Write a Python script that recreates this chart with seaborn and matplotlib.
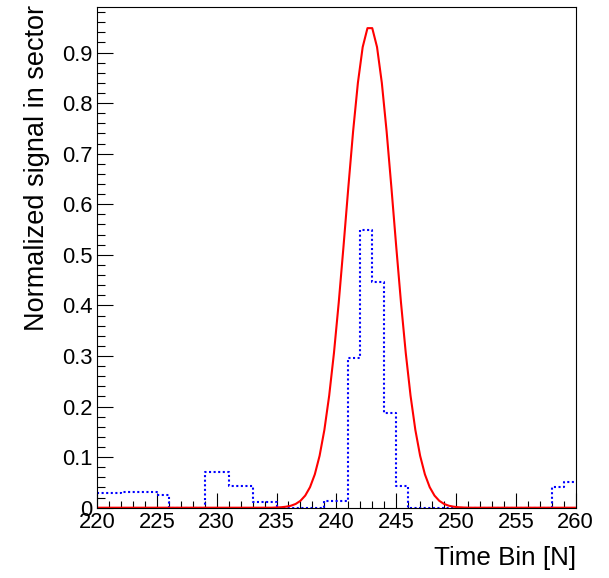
import numpy as np
import pandas as pd
import matplotlib
matplotlib.use("Agg")
import matplotlib.pyplot as plt
import seaborn as sns
from matplotlib.ticker import MultipleLocator

# ---- data ----
bin_edges = list(range(220, 261))
hist_values = [0.030, 0.030, 0.032, 0.032, 0.032, 0.025, 0.0, 0.0, 0.0, 0.070,
               0.070, 0.043, 0.043, 0.012, 0.012, 0.0, 0.0, 0.0, 0.0, 0.014,
               0.014, 0.296, 0.550, 0.447, 0.188, 0.042, 0.0, 0.0, 0.0, 0.0,
               0.0, 0.0, 0.0, 0.0, 0.0, 0.0, 0.0, 0.0, 0.040, 0.051]

fit_x = [220.0, 234.6, 235.0, 235.4, 235.8, 236.2, 236.6, 237.0, 237.4, 237.8,
         238.2, 238.6, 239.0, 239.4, 239.8, 240.2, 240.6, 241.0, 241.4, 241.8,
         242.2, 242.6, 243.0, 243.4, 243.8, 244.2, 244.6, 245.0, 245.4, 245.8,
         246.2, 246.6, 247.0, 247.4, 247.8, 248.2, 248.6, 249.0, 249.4, 249.8,
         250.2, 250.6, 251.0, 260.0]
fit_y = [0.0, 0.0, 0.0004, 0.0009, 0.0020, 0.0039, 0.0074, 0.0136, 0.0240, 0.0406,
         0.0659, 0.1027, 0.1539, 0.2214, 0.3059, 0.4059, 0.5172, 0.6331, 0.7441, 0.8400,
         0.9107, 0.9482, 0.9482, 0.9107, 0.8400, 0.7441, 0.6331, 0.5172, 0.4059, 0.3059,
         0.2214, 0.1539, 0.1027, 0.0659, 0.0406, 0.0240, 0.0136, 0.0074, 0.0039, 0.0020,
         0.0009, 0.0004, 0.0, 0.0]

x_label = "Time Bin [N]"
y_label = "Normalized signal in sector"

# ---- figure ----
sns.set_theme(style="white")
plt.rcParams["font.family"] = ["Liberation Sans", "DejaVu Sans"]
plt.rcParams["text.color"] = "black"
plt.rcParams["axes.labelcolor"] = "black"
plt.rcParams["xtick.color"] = "black"
plt.rcParams["ytick.color"] = "black"

fig = plt.figure(figsize=(6.09, 5.78), dpi=100)
ax = fig.add_axes([97 / 609, 1 - 507.7 / 578, 478.7 / 609, 500.7 / 578])

hist_df = pd.DataFrame({"edge": bin_edges, "value": hist_values + [hist_values[-1]]})
fit_df = pd.DataFrame({"x": fit_x, "y": fit_y})

sns.lineplot(data=hist_df, x="edge", y="value", ax=ax, estimator=None,
             drawstyle="steps-post", color=(0, 0, 1), linewidth=1.5,
             linestyle=(0, (1, 1.2)), sort=False)
sns.lineplot(data=fit_df, x="x", y="y", ax=ax, estimator=None,
             color=(1, 0, 0), linewidth=1.5, sort=False)

ax.set_xlim(220, 260)
ax.set_ylim(0, 0.99)

ax.xaxis.set_major_locator(MultipleLocator(5))
ax.xaxis.set_minor_locator(MultipleLocator(1))
ax.yaxis.set_minor_locator(MultipleLocator(0.02))
ax.set_yticks(np.round(np.arange(0, 0.91, 0.1), 1))
ax.set_yticklabels(["0", "0.1", "0.2", "0.3", "0.4", "0.5", "0.6", "0.7", "0.8", "0.9"])

ax.tick_params(axis="x", which="major", direction="in", length=10.5, width=0.8,
               color="black", labelcolor="black", labelsize=15.8, pad=3,
               top=False, bottom=True)
ax.tick_params(axis="x", which="minor", direction="in", length=5.2, width=0.8,
               color="black", top=False, bottom=True)
ax.tick_params(axis="y", which="major", direction="in", length=11.5, width=0.8,
               color="black", labelcolor="black", labelsize=15.8, pad=3,
               left=True, right=False)
ax.tick_params(axis="y", which="minor", direction="in", length=5.8, width=0.8,
               color="black", left=True, right=False)

for sp in ax.spines.values():
    sp.set_color("black")
    sp.set_linewidth(0.8)

ax.set_xlabel(x_label, fontsize=18.7, loc="right", color="black")
ax.xaxis.set_label_coords(1.0, (507.7 - 558) / 500.7)
ax.xaxis.label.set_verticalalignment("center")

ax.set_ylabel(y_label, fontsize=19.5, loc="top", color="black")
ax.yaxis.set_label_coords((37 - 97) / 478.7, 1.004)
ax.yaxis.label.set_verticalalignment("center")

fig.savefig("out.png", dpi=100)
